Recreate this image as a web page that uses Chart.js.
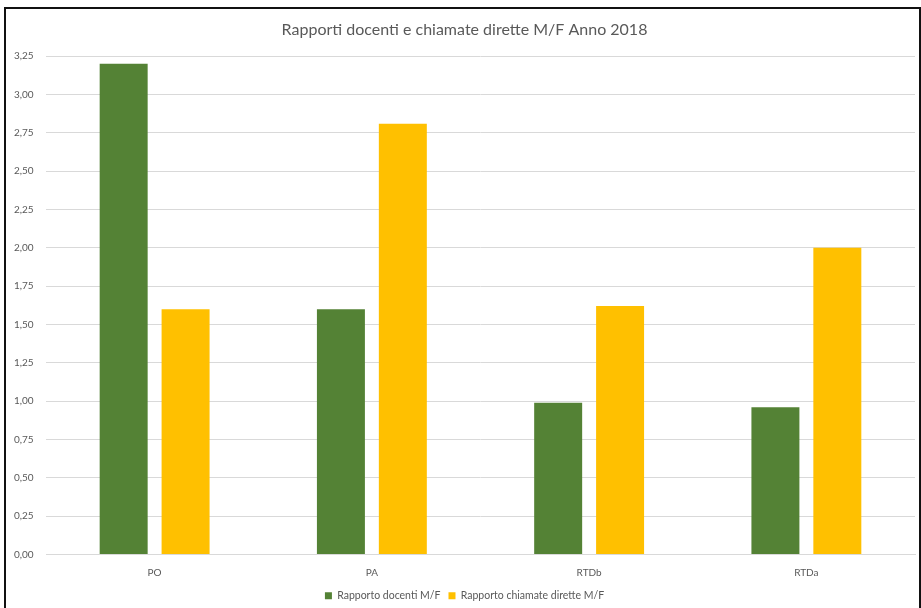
<!DOCTYPE html>
<html>
<head>
<meta charset="utf-8">
<script src="https://cdn.jsdelivr.net/npm/chart.js@4/dist/chart.umd.min.js"></script>
<style>
  body { margin: 0; background: #fff; overflow: hidden; }
  #frame {
    position: absolute; left: 4px; top: 7px;
    width: 913px; height: 620px;
    border: 2px solid #111; background: #fff;
  }
  #chartBox { position: relative; width: 913px; height: 602px; }
</style>
</head>
<body>
<div id="frame"><div id="chartBox"><canvas id="chartRapporti"></canvas></div></div>
<script>
// Dati
const categories = ["PO", "PA", "RTDb", "RTDa"];
const docentiMF = [3.20, 1.60, 0.99, 0.96];
const chiamateMF = [1.60, 2.81, 1.62, 2.00];
const yTicks = [0, 0.25, 0.5, 0.75, 1, 1.25, 1.5, 1.75, 2, 2.25, 2.5, 2.75, 3, 3.25];

const textColor = "#595959";
const gridColor = "#d9d9d9";
const fontFamily = "Lato, 'Open Sans', sans-serif";

const ctx = document.getElementById("chartRapporti").getContext("2d");
const chartRapporti = new Chart(ctx, {
    type: "bar",
    data: {
        labels: categories,
        datasets: [
            {
                label: "Rapporto docenti M/F",
                data: docentiMF,
                backgroundColor: "#548235",
                categoryPercentage: 0.57,
                barPercentage: 0.775,
            },
            {
                label: "Rapporto chiamate dirette M/F",
                data: chiamateMF,
                backgroundColor: "#ffc000",
                categoryPercentage: 0.57,
                barPercentage: 0.775,
            },
        ],
    },
    options: {
        responsive: true,
        maintainAspectRatio: false,
        animation: false,
        layout: { padding: { left: 8, right: 4, top: 0, bottom: 0 } },
        scales: {
            x: {
                grid: { display: false },
                border: { color: gridColor },
                ticks: { color: textColor, font: { family: fontFamily, size: 10 }, padding: 4 },
            },
            y: {
                min: 0,
                max: 3.25,
                afterBuildTicks: (axis) => {
                    axis.ticks = yTicks.map((v) => ({ value: v }));
                },
                afterFit: (axis) => {
                    axis.width = 32;
                },
                grid: { color: gridColor, drawTicks: false },
                border: { display: false },
                ticks: {
                    color: textColor,
                    font: { family: fontFamily, size: 10 },
                    crossAlign: "far",
                    padding: 4,
                    callback: (v) => Number(v).toFixed(2).replace(".", ","),
                },
            },
        },
        plugins: {
            title: {
                display: true,
                text: "Rapporti docenti e chiamate dirette M/F Anno 2018",
                color: textColor,
                font: { family: fontFamily, size: 16, weight: "normal" },
                padding: { top: 11, bottom: 17 },
            },
            legend: {
                position: "bottom",
                labels: {
                    color: textColor,
                    font: { family: fontFamily, size: 10.5 },
                    boxWidth: 7,
                    boxHeight: 7,
                    padding: 8,
                },
            },
            tooltip: { enabled: false },
        },
    },
});
</script>
</body>
</html>
